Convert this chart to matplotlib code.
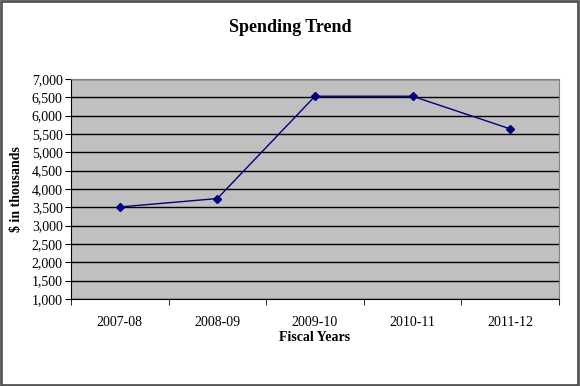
import numpy as np
import matplotlib.pyplot as plt
from matplotlib.ticker import MultipleLocator, FuncFormatter
from matplotlib.patches import Rectangle

years = ["2007-08", "2008-09", "2009-10", "2010-11", "2011-12"]
spending = [3510, 3740, 6530, 6530, 5640]

plt.rcParams['font.family'] = ['Liberation Serif', 'DejaVu Serif']

fig = plt.figure(figsize=(5.8, 3.86), dpi=100)
fig.patches.append(Rectangle((0.002, 0.003), 0.995, 0.994, transform=fig.transFigure,
                             fill=False, edgecolor="#555555", linewidth=2))

ax = fig.add_axes([0.1224, 0.2254, 0.8414, 0.5699])
ax.set_facecolor("#c0c0c0")

x = np.arange(len(years))
ax.plot(x, spending, color="#000080", linewidth=1, marker="D", markersize=4.5)

ax.set_xlim(-0.5, len(years) - 0.5)
ax.set_ylim(1000, 7000)
ax.yaxis.set_major_locator(MultipleLocator(500))
ax.yaxis.set_major_formatter(FuncFormatter(lambda v, p: f"{int(v):,}"))
ax.grid(axis="y", color="black", linewidth=1)
ax.set_axisbelow(True)

ax.set_xticks(x)
ax.set_xticklabels(years)
ax.set_xticks(np.arange(-0.5, len(years)), minor=True)
ax.tick_params(axis="x", which="major", length=0, pad=12, labelsize=10)
ax.tick_params(axis="x", which="minor", length=4, direction="out", color="black")
ax.tick_params(axis="y", length=4, direction="out", labelsize=10, pad=2)

ax.spines["left"].set_color("black")
ax.spines["bottom"].set_color("black")
ax.spines["top"].set_color("#808080")
ax.spines["right"].set_color("#808080")

ax.set_xlabel("Fiscal Years", fontweight="bold", fontsize=10, labelpad=2)
ax.set_ylabel("$ in thousands", fontweight="bold", fontsize=10, labelpad=6)
fig.suptitle("Spending Trend", fontweight="bold", fontsize=13, y=0.95)

fig.savefig("out.png", dpi=100)
